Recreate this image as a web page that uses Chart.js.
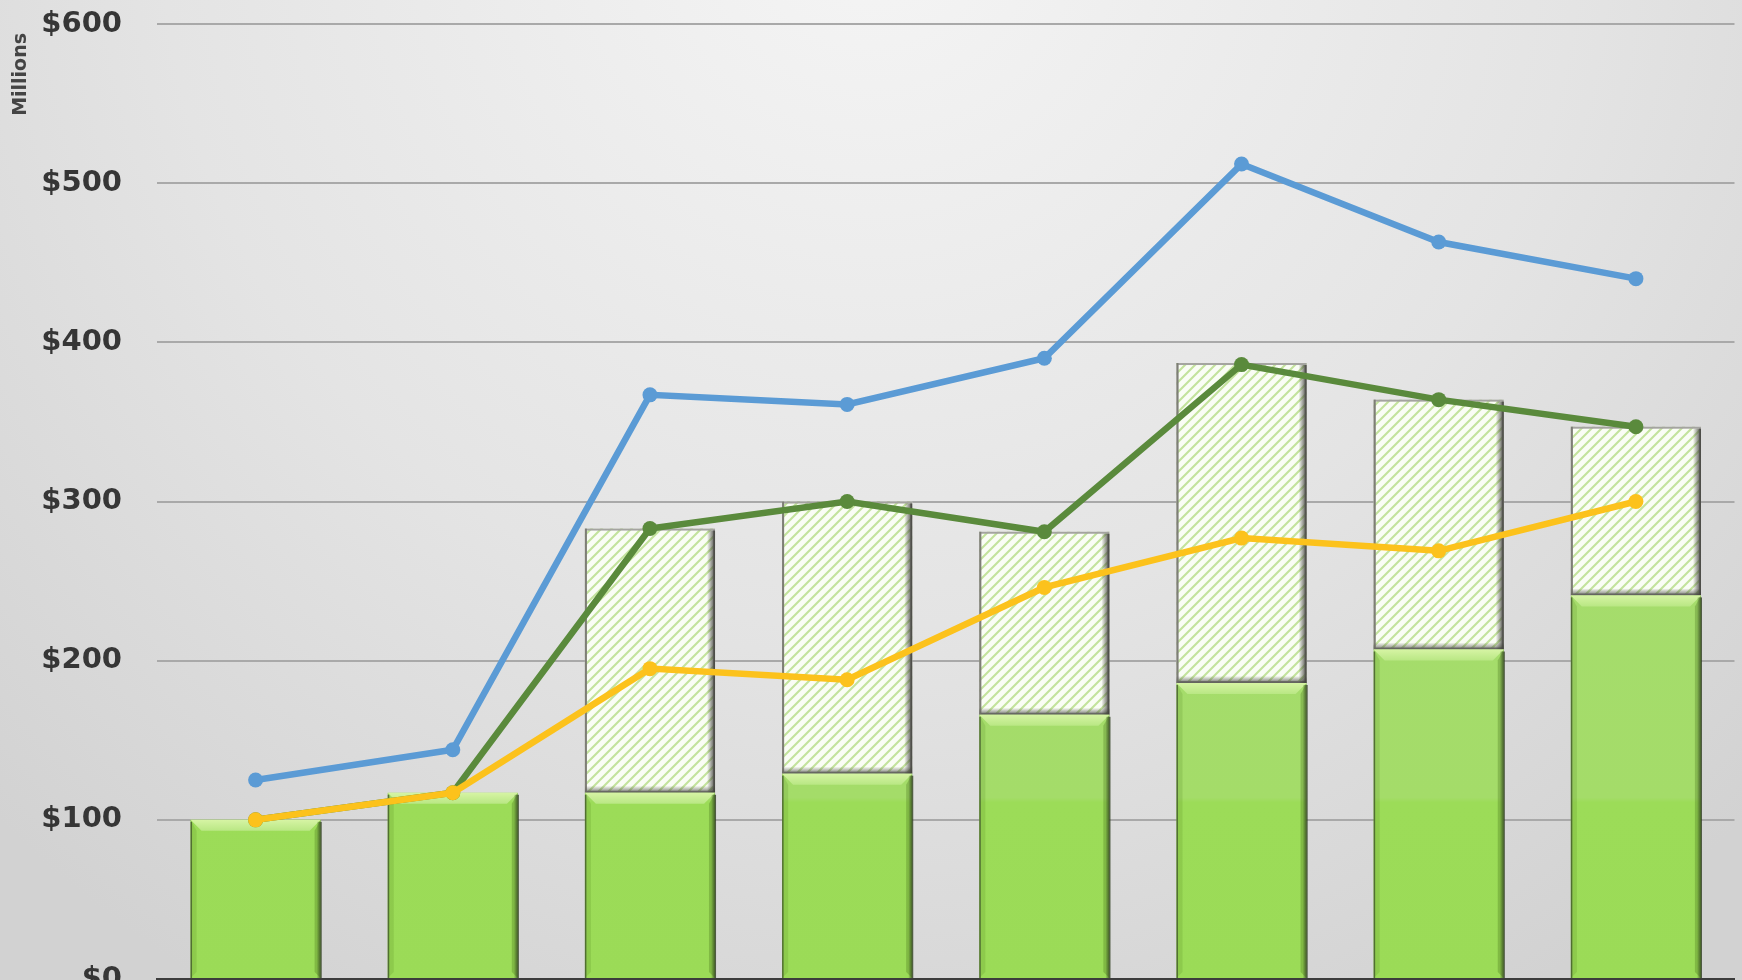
<!DOCTYPE html>
<html>
<head>
<meta charset="utf-8">
<script src="https://cdn.jsdelivr.net/npm/chart.js@4"></script>
<style>
  html, body { margin: 0; padding: 0; overflow: hidden; background: #e2e2e2; }
  #wrap { position: relative; width: 1742px; height: 1000px; }
</style>
</head>
<body>
<div id="wrap"><canvas id="grafico"></canvas></div>
<script>
const periodos = ["1", "2", "3", "4", "5", "6", "7", "8"];
const baseVerde = [100, 117, 117, 129, 166, 186, 207, 241];
const extraHachurado = [null, null, 166, 171, 115, 201, 157, 106];
const linhaAzul = [125, 144, 367, 361, 390, 512, 463, 440];
const linhaVerde = [100, 117, 283, 300, 281, 386, 364, 347];
const linhaAmarela = [100, 117, 195, 188, 246, 277, 269, 300];
const ticksY = [0, 100, 200, 300, 400, 500, 600];

document.addEventListener("DOMContentLoaded", function () {
  // padrão de listras diagonais para a parte hachurada
  const tile = document.createElement("canvas");
  tile.width = 10;
  tile.height = 10;
  const t = tile.getContext("2d");
  t.fillStyle = "#fafdf5";
  t.fillRect(0, 0, 10, 10);
  t.strokeStyle = "#c3e39d";
  t.lineWidth = 2.1;
  t.beginPath();
  t.moveTo(-2, 12); t.lineTo(12, -2);
  t.moveTo(-7, 7); t.lineTo(7, -7);
  t.moveTo(3, 17); t.lineTo(17, 3);
  t.stroke();
  const hachura = t.createPattern(tile, "repeat");

  // fundo cinza com degradê radial
  const fundo = {
    id: "fundo",
    beforeDraw(chart) {
      const ctx = chart.ctx;
      const w = chart.width, h = chart.height;
      const g = ctx.createRadialGradient(w * 0.5, -80, 40, w * 0.5, -80, w * 0.72);
      g.addColorStop(0, "#f4f4f4");
      g.addColorStop(0.55, "#e4e4e4");
      g.addColorStop(1, "#d2d2d2");
      ctx.save();
      ctx.fillStyle = g;
      ctx.fillRect(0, 0, w, h);
      ctx.restore();
    }
  };

  // rótulo de unidade ao lado do eixo Y
  const unidade = {
    id: "unidade",
    afterDraw(chart) {
      const ctx = chart.ctx;
      ctx.save();
      ctx.translate(21, chart.chartArea.top + 9);
      ctx.rotate(-Math.PI / 2);
      ctx.font = "bold 19px 'DejaVu Sans'";
      ctx.fillStyle = "#444444";
      ctx.textAlign = "right";
      ctx.textBaseline = "middle";
      ctx.fillText("Millions", 0, 0);
      ctx.restore();
    }
  };

  // chanfro e sombra das barras
  const chanfro = {
    id: "chanfro",
    afterDatasetDraw(chart, args) {
      if (args.meta.type !== "bar") return;
      const ctx = chart.ctx;
      const solida = args.index === 0;
      args.meta.data.forEach(function (bar, i) {
        if (chart.data.datasets[args.index].data[i] == null) return;
        const p = bar.getProps(["x", "y", "base", "width"], true);
        const l = p.x - p.width / 2, r = p.x + p.width / 2;
        const top = Math.min(p.y, p.base), bot = Math.max(p.y, p.base);
        const h = bot - top;
        if (h < 2) return;
        const b = Math.min(11, h / 2);
        ctx.save();
        if (solida) {
          const gt = ctx.createLinearGradient(0, top, 0, top + b);
          gt.addColorStop(0, "#d6f4a4");
          gt.addColorStop(1, "#b9e784");
          ctx.fillStyle = gt;
          ctx.beginPath();
          ctx.moveTo(l, top); ctx.lineTo(r, top); ctx.lineTo(r - b, top + b); ctx.lineTo(l + b, top + b);
          ctx.closePath(); ctx.fill();
          ctx.fillStyle = "rgba(70, 120, 20, 0.16)";
          ctx.beginPath();
          ctx.moveTo(l, top); ctx.lineTo(l + b * 0.55, top + b); ctx.lineTo(l + b * 0.55, bot - b * 0.55); ctx.lineTo(l, bot);
          ctx.closePath(); ctx.fill();
          ctx.fillStyle = "rgba(50, 90, 10, 0.26)";
          ctx.beginPath();
          ctx.moveTo(r, top); ctx.lineTo(r - b * 0.55, top + b); ctx.lineTo(r - b * 0.55, bot - b * 0.55); ctx.lineTo(r, bot);
          ctx.closePath(); ctx.fill();
          ctx.fillStyle = "rgba(60, 80, 40, 0.75)";
          ctx.fillRect(l, top + 2, 1.5, h - 2);
          const gr = ctx.createLinearGradient(r - 4, 0, r + 1, 0);
          gr.addColorStop(0, "rgba(45, 60, 30, 0)");
          gr.addColorStop(1, "rgba(45, 60, 30, 0.9)");
          ctx.fillStyle = gr;
          ctx.fillRect(r - 4, top + 2, 5, h - 2);
        } else {
          ctx.strokeStyle = "#a4a4a0";
          ctx.lineWidth = 2;
          ctx.strokeRect(l + 1, top + 1, p.width - 2, h - 2);
          const gr = ctx.createLinearGradient(r - 8, 0, r, 0);
          gr.addColorStop(0, "rgba(60, 60, 55, 0)");
          gr.addColorStop(1, "rgba(60, 60, 55, 0.9)");
          ctx.fillStyle = gr;
          ctx.fillRect(r - 8, top + 2, 8, h - 2);
          const gb = ctx.createLinearGradient(0, bot - 7, 0, bot);
          gb.addColorStop(0, "rgba(60, 60, 55, 0)");
          gb.addColorStop(1, "rgba(60, 60, 55, 0.7)");
          ctx.fillStyle = gb;
          ctx.fillRect(l, bot - 7, p.width, 7);
          ctx.fillStyle = "rgba(110, 110, 100, 0.7)";
          ctx.fillRect(l, top, 2, h);
        }
        ctx.restore();
      });
    }
  };

  function verdeBarra(context) {
    const area = context.chart.chartArea;
    if (!area) return "#9edc5c";
    const g = context.chart.ctx.createLinearGradient(0, area.top, 0, area.bottom);
    g.addColorStop(0, "#a9de74");
    g.addColorStop(0.81, "#a4dc69");
    g.addColorStop(0.815, "#9cdc58");
    g.addColorStop(1, "#9bdb57");
    return g;
  }

  function linha(rotulo, valores, cor, ordem) {
    return {
      type: "line",
      label: rotulo,
      data: valores,
      borderColor: cor,
      backgroundColor: cor,
      borderWidth: 6.5,
      pointRadius: 7.5,
      pointBorderWidth: 0,
      pointBackgroundColor: cor,
      tension: 0,
      order: ordem,
      stack: "linhas_" + ordem
    };
  }

  const ctx = document.getElementById("grafico").getContext("2d");
  new Chart(ctx, {
    type: "bar",
    data: {
      labels: periodos,
      datasets: [
        {
          label: "Base",
          data: baseVerde,
          backgroundColor: verdeBarra,
          borderWidth: 0,
          stack: "barras",
          order: 4
        },
        {
          label: "Adicional",
          data: extraHachurado,
          backgroundColor: hachura,
          borderWidth: 0,
          stack: "barras",
          order: 5
        },
        linha("Azul", linhaAzul, "#5b9bd5", 3),
        linha("Verde", linhaVerde, "#5a8a3c", 2),
        linha("Amarela", linhaAmarela, "#fcc21c", 1)
      ]
    },
    options: {
      responsive: true,
      maintainAspectRatio: false,
      animation: false,
      layout: { padding: { top: 24, right: 7, bottom: 21, left: 0 } },
      plugins: {
        legend: { display: false },
        tooltip: { enabled: false }
      },
      datasets: {
        bar: { barPercentage: 0.66, categoryPercentage: 1 }
      },
      scales: {
        x: {
          stacked: true,
          grid: { display: false, drawTicks: false },
          ticks: { display: false },
          border: { display: true, color: "#3c3c3c", width: 3 },
          afterFit: function (scale) { scale.height = 0; }
        },
        y: {
          stacked: true,
          min: 0,
          max: 600,
          afterBuildTicks: function (scale) {
            scale.ticks = ticksY.map(function (v) { return { value: v }; });
          },
          afterFit: function (scale) {
            scale.width = 157;
            scale.paddingTop = 0;
            scale.paddingBottom = 0;
          },
          grid: { color: "#a9a9a9", lineWidth: 2, drawTicks: false },
          border: { display: false },
          ticks: {
            padding: 35,
            color: "#363636",
            font: { family: "DejaVu Sans", weight: "bold", size: 29 },
            callback: function (v) { return "$" + v; }
          }
        }
      }
    },
    plugins: [fundo, chanfro, unidade]
  });
});
</script>
</body>
</html>
